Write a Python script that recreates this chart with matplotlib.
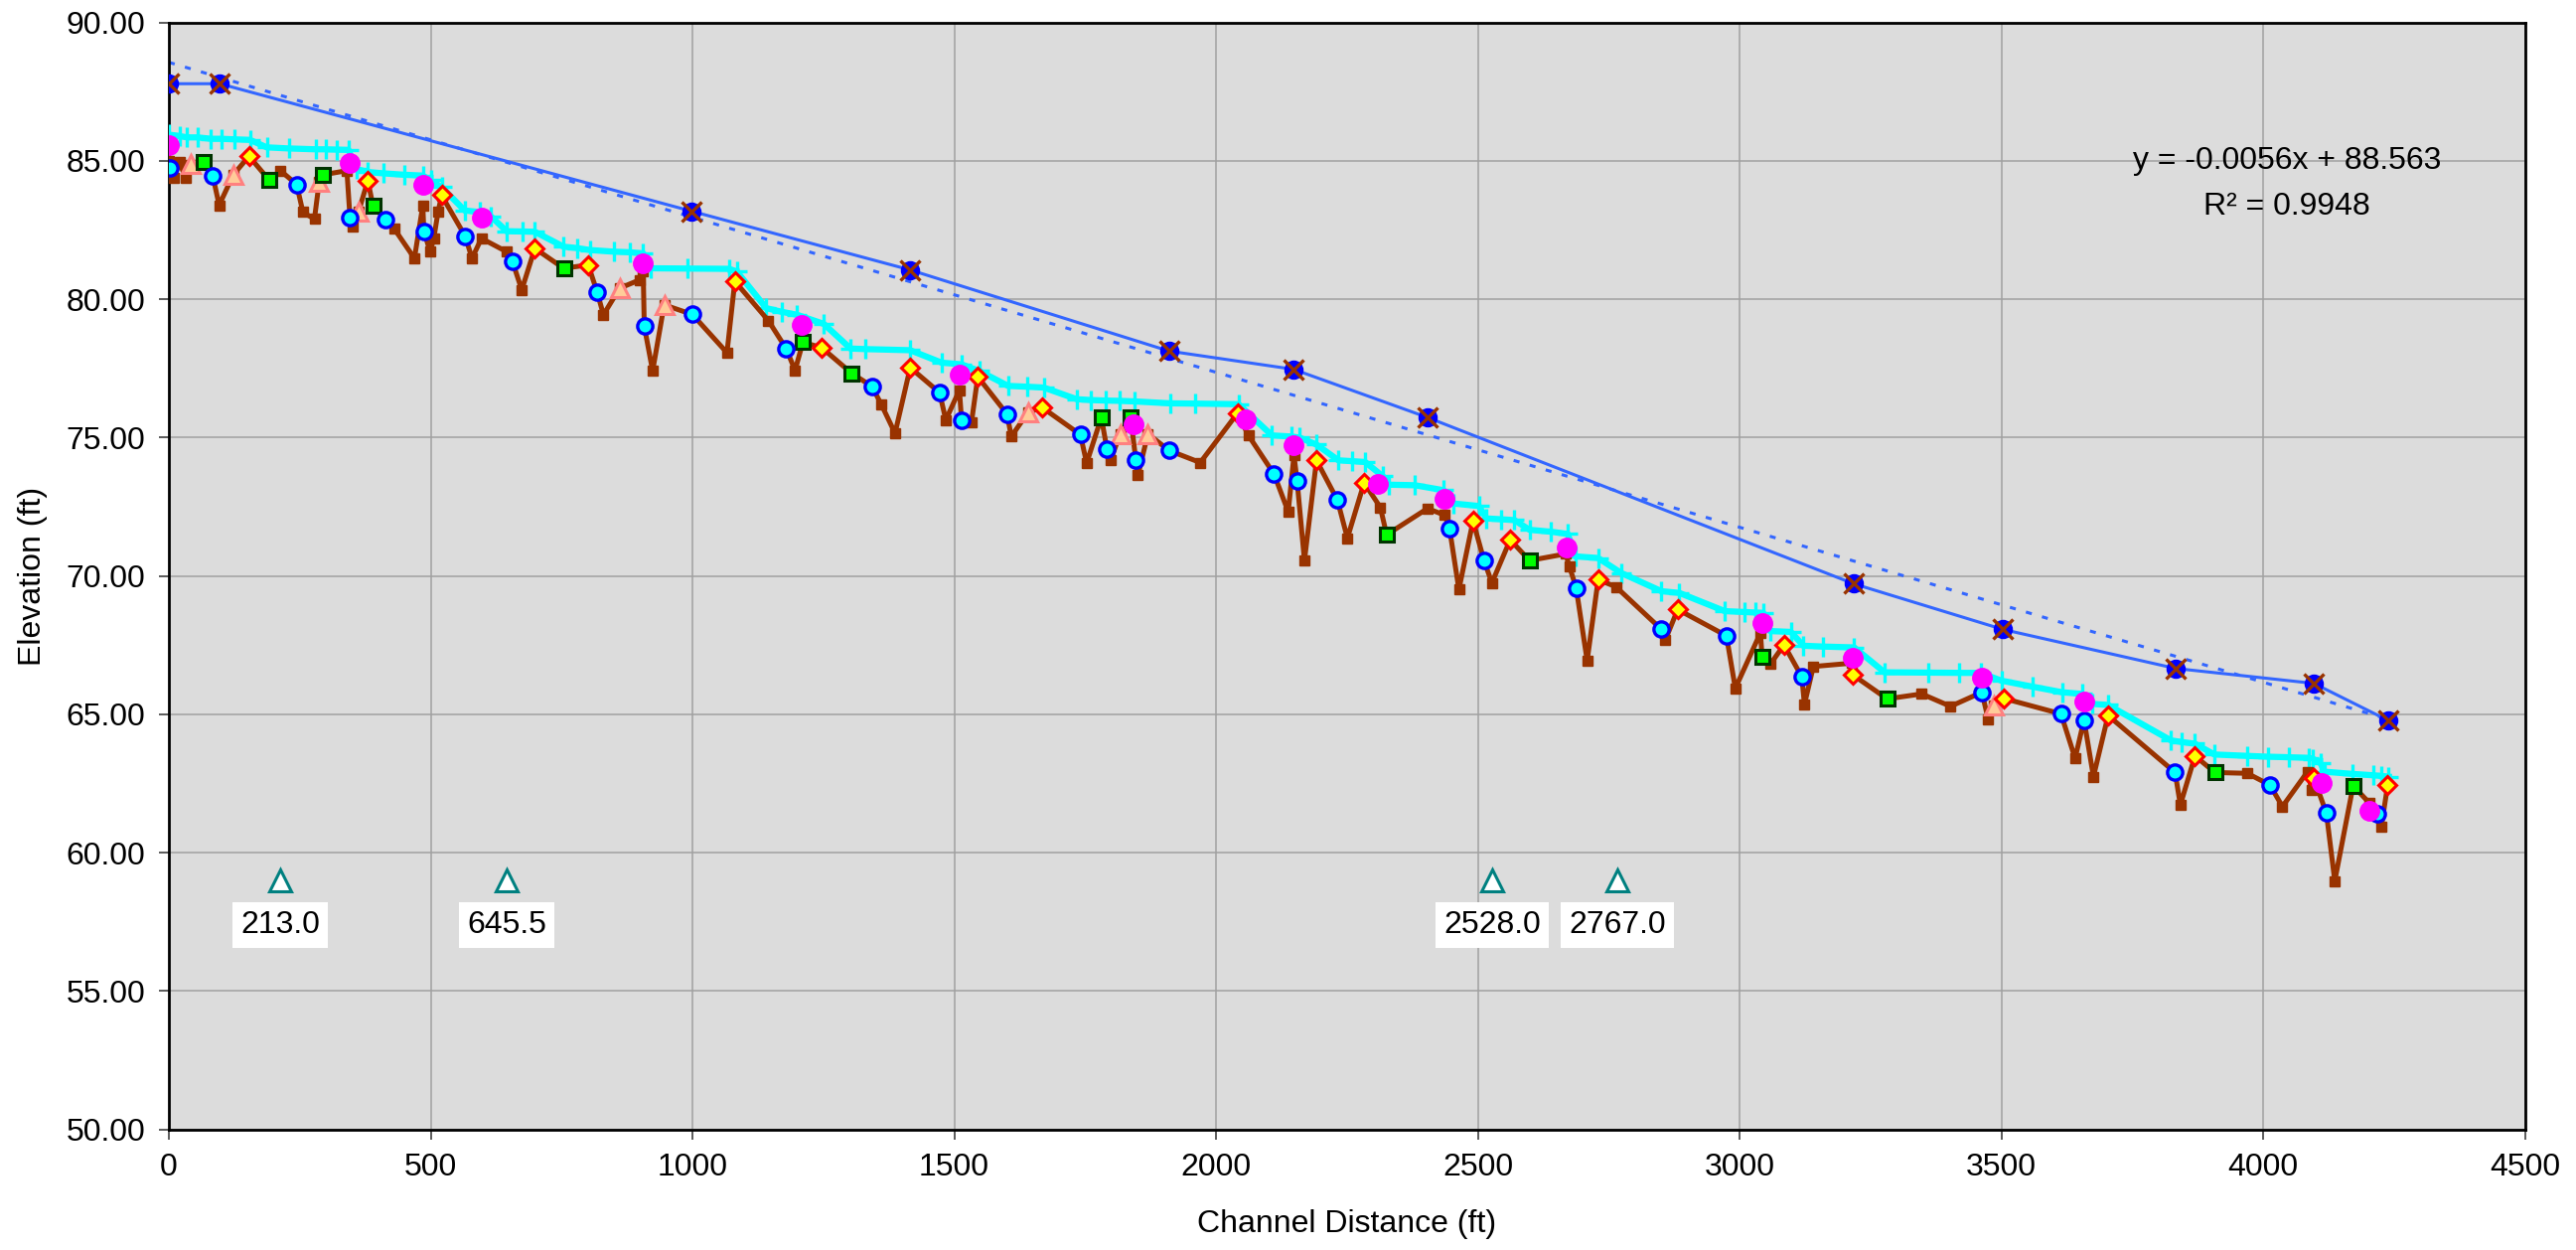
import matplotlib
matplotlib.use("Agg")
import matplotlib.pyplot as plt
import numpy as np

plt.rcParams['font.family'] = ['Liberation Sans', 'DejaVu Sans']

# ---------------- data ----------------
# Thalweg (bed) profile
thalweg_dist = [0, 9, 20, 32, 42, 66, 84, 96, 123, 153, 191, 213, 244, 256, 278, 287, 295, 340, 346, 351,
                362, 380, 390, 414, 430, 469, 485, 487, 499, 506, 514, 521, 566, 579, 597, 645, 656, 674, 699,
                754, 801, 818, 830, 861, 899, 906, 908, 924, 946, 1000, 1066, 1081, 1145, 1179, 1196, 1211,
                1247, 1304, 1343, 1361, 1387, 1416, 1472, 1484, 1510, 1514, 1533, 1545, 1601, 1609, 1641,
                1668, 1741, 1753, 1781, 1792, 1799, 1817, 1837, 1847, 1851, 1870, 1910, 1970, 2041, 2062,
                2111, 2138, 2149, 2155, 2169, 2192, 2232, 2251, 2283, 2314, 2326, 2404, 2437, 2446, 2464,
                2491, 2512, 2527, 2562, 2599, 2668, 2675, 2688, 2709, 2730, 2764, 2851, 2858, 2882, 2975,
                2992, 3040, 3043, 3059, 3085, 3119, 3124, 3141, 3214, 3217, 3282, 3348, 3403, 3463, 3475,
                3485, 3504, 3614, 3641, 3658, 3676, 3704, 3832, 3842, 3870, 3908, 3970, 4013, 4037, 4085,
                4093, 4097, 4121, 4137, 4172, 4203, 4218, 4226, 4238]
thalweg_elev = [85.00, 84.40, 84.95, 84.40, 84.85, 84.95, 84.45, 83.40, 84.50, 85.17, 84.32, 84.65, 84.15,
                83.15, 82.90, 84.23, 84.50, 84.65, 82.94, 82.62, 83.15, 84.29, 83.37, 82.89, 82.56, 81.48,
                83.39, 82.46, 81.72, 82.20, 83.15, 83.75, 82.28, 81.48, 82.20, 81.72, 81.38, 80.34, 81.84,
                81.12, 81.24, 80.26, 79.44, 80.40, 80.70, 81.00, 79.03, 77.41, 79.80, 79.45, 78.07, 80.65,
                79.23, 78.22, 77.43, 78.45, 78.25, 77.33, 76.85, 76.19, 75.16, 77.53, 76.63, 75.64, 76.72,
                75.64, 75.55, 77.20, 75.85, 75.04, 75.91, 76.09, 75.11, 74.08, 75.73, 74.57, 74.20, 75.14,
                75.73, 74.18, 73.64, 75.14, 74.54, 74.10, 75.88, 75.08, 73.68, 72.32, 74.36, 73.43, 70.56,
                74.18, 72.74, 71.37, 73.37, 72.48, 71.49, 72.44, 72.20, 71.73, 69.51, 71.99, 70.56, 69.75,
                71.31, 70.56, 70.80, 70.35, 69.57, 66.94, 69.87, 69.61, 68.07, 67.68, 68.79, 67.84, 65.94,
                67.95, 67.09, 66.82, 67.51, 66.36, 65.36, 66.73, 66.85, 66.42, 65.56, 65.74, 65.29, 65.80,
                64.82, 65.32, 65.58, 65.02, 63.41, 64.80, 62.75, 64.96, 62.90, 61.73, 63.50, 62.90, 62.87,
                62.45, 61.67, 62.93, 62.27, 62.69, 61.43, 58.98, 62.42, 61.80, 61.39, 60.95, 62.45]

# Water surface profile
water_dist = [0, 20, 35, 55, 80, 100, 125, 155, 187, 230, 280, 300, 320, 343, 358, 380, 410, 450, 485, 500,
              521, 565, 594, 615, 645, 675, 699, 754, 780, 804, 850, 880, 906, 921, 990, 1070, 1085, 1141,
              1170, 1200, 1251, 1302, 1330, 1416, 1476, 1514, 1548, 1603, 1640, 1671, 1734, 1760, 1790,
              1815, 1844, 1912, 1960, 2043, 2107, 2145, 2160, 2192, 2234, 2260, 2285, 2319, 2330, 2380,
              2435, 2454, 2502, 2517, 2545, 2570, 2599, 2640, 2672, 2686, 2730, 2774, 2851, 2885, 2972,
              3010, 3030, 3045, 3059, 3098, 3122, 3160, 3219, 3277, 3360, 3420, 3461, 3500, 3560, 3616,
              3654, 3674, 3704, 3824, 3845, 3870, 3907, 3970, 4010, 4050, 4087, 4095, 4110, 4117, 4170,
              4210, 4225, 4240]
water_elev = [85.95, 85.90, 85.85, 85.85, 85.80, 85.80, 85.78, 85.76, 85.49, 85.45, 85.42, 85.42, 85.41,
              85.40, 84.71, 84.60, 84.55, 84.50, 84.47, 84.30, 84.05, 83.21, 83.15, 83.00, 82.46, 82.45,
              82.44, 81.90, 81.85, 81.78, 81.72, 81.70, 81.66, 81.12, 81.11, 81.10, 81.00, 79.68, 79.55,
              79.44, 79.11, 78.22, 78.20, 78.16, 77.71, 77.65, 77.41, 76.87, 76.84, 76.81, 76.39, 76.36,
              76.34, 76.33, 76.31, 76.24, 76.23, 76.21, 75.08, 75.04, 75.00, 74.75, 74.18, 74.15, 74.12,
              73.60, 73.30, 73.28, 73.10, 72.62, 72.53, 72.08, 72.05, 72.02, 71.67, 71.60, 71.52, 70.71,
              70.65, 70.11, 69.45, 69.39, 68.73, 68.70, 68.68, 68.67, 68.01, 67.98, 67.48, 67.45, 67.42,
              66.52, 66.51, 66.50, 66.50, 66.22, 66.00, 65.80, 65.74, 65.38, 65.34, 64.06, 64.00, 63.94,
              63.55, 63.50, 63.47, 63.45, 63.43, 63.40, 63.23, 62.93, 62.85, 62.80, 62.78, 62.75]

# Bankfull / top of bank
bank_dist = [0, 97, 999, 1416, 1910, 2148, 2404, 3218, 3503, 3833, 4097, 4239]
bank_elev = [87.79, 87.79, 83.18, 81.06, 78.13, 77.47, 75.73, 69.72, 68.07, 66.66, 66.12, 64.78]

# Linear trend of bankfull (from chart label)
trend_slope = -0.0056
trend_intercept = 88.563
trend_label = "y = -0.0056x + 88.563"
r2_label = "R² = 0.9948"

# Feature points
pool_dist = [2, 84, 244, 346, 414, 487, 566, 656, 818, 908, 1000, 1179, 1343, 1472, 1514, 1601, 1741,
             1792, 1847, 1910, 2111, 2155, 2232, 2446, 2512, 2688, 2851, 2975, 3119, 3463, 3614, 3658,
             3832, 4013, 4121, 4218]
pool_elev = [84.75, 84.45, 84.15, 82.94, 82.89, 82.46, 82.28, 81.38, 80.26, 79.03, 79.47, 78.22, 76.85,
             76.63, 75.64, 75.85, 75.11, 74.57, 74.18, 74.54, 73.68, 73.43, 72.74, 71.73, 70.56, 69.57,
             68.07, 67.84, 66.36, 65.80, 65.02, 64.78, 62.90, 62.45, 61.43, 61.39]

run_dist = [66, 191, 295, 390, 755, 1211, 1304, 1781, 1837, 2326, 2599, 3043, 3282, 3908, 4172]
run_elev = [84.97, 84.32, 84.50, 83.37, 81.12, 78.45, 77.33, 75.73, 75.73, 71.49, 70.56, 67.09, 65.56,
            62.90, 62.42]

head_dist = [0, 345, 486, 597, 906, 1209, 1510, 1843, 2056, 2148, 2310, 2437, 2669, 3043, 3216, 3463,
             3659, 4112, 4203]
head_elev = [85.58, 84.93, 84.14, 82.94, 81.30, 79.09, 77.29, 75.50, 75.67, 74.72, 73.32, 72.80, 71.03,
             68.31, 67.06, 66.34, 65.47, 62.51, 61.51]

glide_dist = [153, 380, 521, 699, 801, 1081, 1247, 1416, 1545, 1668, 2041, 2192, 2283, 2491, 2562, 2730,
              2882, 3085, 3217, 3504, 3704, 3870, 4097, 4238]
glide_elev = [85.17, 84.29, 83.78, 81.84, 81.24, 80.64, 78.25, 77.53, 77.20, 76.09, 75.88, 74.18, 73.37,
              71.99, 71.31, 69.87, 68.79, 67.51, 66.42, 65.58, 64.96, 63.50, 62.69, 62.45]

tri_dist = [42, 123, 287, 362, 861, 946, 1641, 1817, 1870, 3485]
tri_elev = [84.89, 84.50, 84.23, 83.15, 80.40, 79.80, 75.91, 75.14, 75.14, 65.32]

# Structure annotations
annot_dist = [213.0, 645.5, 2528.0, 2767.0]
annot_elev = 59.0
annot_label_elev = 57.4

# ---------------- figure ----------------
W, H = 2593, 1258
fig = plt.figure(figsize=(W / 100, H / 100), dpi=100)
ax = fig.add_axes([170 / W, (H - 1136.7) / H, (2541.5 - 170) / W, (1136.7 - 22.7) / H])
ax.set_facecolor('#DCDCDC')

ax.set_xlim(0, 4500)
ax.set_ylim(50, 90)
ax.set_xticks(np.arange(0, 4501, 500))
ax.set_yticks(np.arange(50, 90.1, 5))
ax.yaxis.set_major_formatter(matplotlib.ticker.FormatStrFormatter('%.2f'))
ax.grid(True, color='#A0A0A0', linewidth=1.1, zorder=0)
ax.set_axisbelow(True)
for s in ax.spines.values():
    s.set_linewidth(2.0)
    s.set_color('black')
ax.tick_params(axis='both', labelsize=23, length=7, width=1.2, color='#404040', pad=10)

# trend line
tx = np.array([0, max(bank_dist)])
ax.plot(tx, trend_slope * tx + trend_intercept, color='#3366FF', lw=2.2,
        linestyle=(0, (2.0, 3.5)), zorder=2)
# bankfull
ax.plot(bank_dist, bank_elev, color='#3366FF', lw=2.2, zorder=3)
ax.plot(bank_dist, bank_elev, linestyle='none', marker='o', ms=13, mfc='#0000FF', mec='#0000FF', zorder=4)
ax.plot(bank_dist, bank_elev, linestyle='none', marker='x', ms=14, mew=2.4, color='#993300', zorder=5)

# water surface
ax.plot(water_dist, water_elev, color='#00FFFF', lw=4.5, marker='+', ms=15, mew=2.4, zorder=3)
# thalweg
ax.plot(thalweg_dist, thalweg_elev, color='#993300', lw=3.6, marker='s', ms=7.5, zorder=4)

# feature markers
ax.plot(tri_dist, tri_elev, linestyle='none', marker='^', ms=13, mfc='#FFCC99', mec='#FF8080', mew=2.2, zorder=5)
ax.plot(run_dist, run_elev, linestyle='none', marker='s', ms=10.5, mfc='#00FF00', mec='#003300', mew=2.2, zorder=5)
ax.plot(pool_dist, pool_elev, linestyle='none', marker='o', ms=11, mfc='#00FFFF', mec='#0000FF', mew=2.4, zorder=6)
ax.plot(glide_dist, glide_elev, linestyle='none', marker='D', ms=9, mfc='#FFFF00', mec='#FF0000', mew=2.2, zorder=6)
ax.plot(head_dist, head_elev, linestyle='none', marker='o', ms=14, mfc='#FF00FF', mec='#FF00FF', zorder=7)

# annotations
ax.plot(annot_dist, [annot_elev] * len(annot_dist), linestyle='none', marker='^', ms=16,
        mfc='white', mec='#008080', mew=2.2, zorder=5)
for d in annot_dist:
    ax.text(d, annot_label_elev, f"{d:.1f}", fontsize=23, ha='center', va='center', zorder=6,
            bbox=dict(facecolor='white', edgecolor='none', boxstyle='square,pad=0.25'))

ax.text(4045, 85.0, trend_label, fontsize=23, ha='center', va='center', zorder=6)
ax.text(4045, 83.35, r2_label, fontsize=23, ha='center', va='center', zorder=6)

ax.set_xlabel('Channel Distance (ft)', fontsize=23)
ax.set_ylabel('Elevation (ft)', fontsize=23)
ax.xaxis.set_label_coords(0.5, -0.0855)
ax.xaxis.label.set_verticalalignment('center')
ax.yaxis.set_label_coords(-0.0578, 0.5)
ax.yaxis.label.set_verticalalignment('center')

fig.savefig('out.png', dpi=100, facecolor='white')
